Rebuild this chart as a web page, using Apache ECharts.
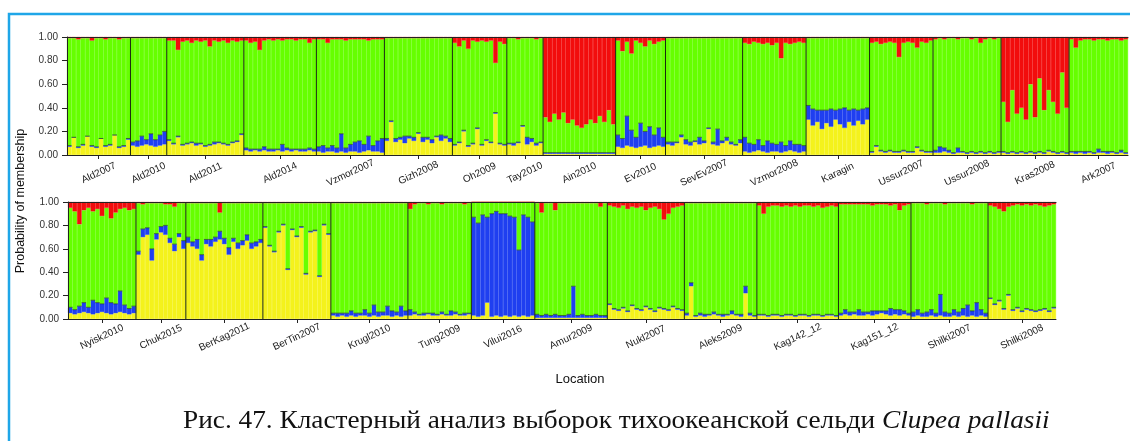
<!DOCTYPE html>
<html>
<head>
<meta charset="utf-8">
<script src="https://cdn.jsdelivr.net/npm/echarts@6/dist/echarts.min.js"></script>
<style>
  html, body { margin: 0; padding: 0; background: #fff; }
  #chart { width: 1130px; height: 441px; }
</style>
</head>
<body>
<div id="chart"></div>
<script>
// membership, percent per individual; green is what is left to 100
// bottom of the stack: yellow, then blue, green, red on top
const topPops = ['Ald2007', 'Ald2010', 'Ald2011', 'Ald2014', 'Vzmor2007', 'Gizh2008', 'Oh2009', 'Tay2010',
  'Ain2010', 'Ev2010', 'SevEv2007', 'Vzmor2008', 'Karagin', 'Ussur2007', 'Ussur2008', 'Kras2008', 'Ark2007'];
const topYellow = [
  [7, 15, 6, 8, 16, 7, 6, 14, 7, 8, 17, 6, 7, 13],
  [8, 7, 8, 9, 8, 7, 8, 9],
  [12, 9, 15, 8, 9, 10, 8, 9, 7, 8, 9, 10, 9, 8, 10, 11, 17],
  [4, 3, 4, 3, 4, 3, 3, 4, 3, 4, 3, 4, 3, 3, 4, 3],
  [3, 2, 3, 3, 2, 3, 2, 3, 3, 2, 3, 4, 3, 3, 2],
  [12, 28, 11, 13, 10, 14, 12, 18, 11, 13, 10, 15, 12, 14, 11],
  [8, 10, 20, 7, 9, 22, 8, 12, 10, 35, 9, 8],
  [9, 8, 10, 24, 9, 11, 8, 10],
  [1, 1, 1, 1, 1, 1, 1, 1, 1, 1, 1, 1, 1, 1, 1, 1],
  [7, 6, 8, 7, 6, 7, 8, 6, 7, 8, 7],
  [9, 8, 10, 15, 9, 8, 11, 9, 10, 22, 9, 8, 10, 12, 9, 8, 10],
  [3, 2, 3, 4, 3, 2, 3, 3, 2, 3, 4, 3, 2, 3],
  [30, 25, 28, 22, 27, 24, 30, 26, 23, 28, 25, 29, 26, 30],
  [2, 7, 3, 2, 3, 2, 2, 3, 2, 2, 6, 3, 2, 2],
  [2, 2, 3, 2, 1, 2, 2, 1, 2, 1, 2, 1, 2, 1, 2],
  [2, 1, 2, 1, 2, 1, 2, 1, 2, 1, 3, 2, 1, 2, 1],
  [2, 1, 2, 1, 2, 1, 2, 2, 1, 2, 1, 2, 1]
];
const topBlue = [
  [1, 0, 1, 1, 0, 1, 1, 0, 1, 1, 0, 1, 1, 1],
  [3, 5, 8, 4, 10, 6, 9, 11],
  [1, 1, 1, 1, 1, 1, 2, 1, 1, 1, 2, 1, 1, 1, 1, 1, 1],
  [2, 2, 1, 2, 3, 2, 2, 1, 6, 2, 2, 1, 2, 2, 2, 2],
  [4, 6, 3, 5, 4, 15, 4, 6, 8, 10, 6, 12, 5, 9, 12],
  [2, 1, 3, 2, 6, 2, 3, 1, 4, 2, 3, 1, 5, 2, 3],
  [1, 1, 1, 1, 1, 1, 1, 1, 1, 1, 1, 1],
  [1, 2, 1, 1, 6, 3, 2, 1],
  [1, 1, 1, 1, 1, 1, 1, 1, 1, 1, 1, 1, 1, 1, 1, 1],
  [10, 8, 25, 14, 9, 20, 12, 18, 10, 15, 8],
  [2, 3, 1, 2, 4, 3, 1, 6, 2, 1, 2, 14, 2, 3, 2, 1, 3],
  [12, 8, 6, 9, 5, 10, 7, 6, 9, 5, 8, 6, 7, 5],
  [12, 14, 10, 16, 11, 15, 8, 13, 17, 10, 14, 9, 13, 10],
  [1, 1, 1, 1, 1, 1, 1, 1, 1, 1, 1, 1, 1, 1],
  [2, 5, 3, 2, 1, 4, 1, 1, 1, 1, 1, 1, 1, 1, 1],
  [1, 1, 1, 1, 1, 1, 1, 1, 1, 1, 1, 1, 1, 1, 1],
  [1, 2, 1, 2, 1, 1, 3, 1, 2, 1, 1, 2, 1]
];
const topRed = [
  [1, 1, 2, 1, 1, 3, 1, 1, 2, 1, 1, 2, 1, 1],
  [1, 1, 1, 1, 1, 1, 1, 1],
  [3, 3, 11, 4, 3, 5, 3, 4, 3, 8, 3, 4, 3, 5, 3, 4, 3],
  [3, 5, 4, 11, 3, 2, 3, 2, 3, 2, 2, 3, 2, 2, 5, 2],
  [2, 2, 5, 2, 2, 2, 3, 2, 2, 2, 2, 3, 2, 2, 2],
  [1, 1, 1, 1, 1, 1, 1, 1, 1, 1, 1, 1, 1, 1, 1],
  [5, 8, 3, 10, 3, 4, 3, 4, 3, 22, 4, 6],
  [1, 1, 2, 1, 1, 1, 2, 1],
  [68, 72, 65, 70, 64, 73, 70, 75, 77, 74, 70, 73, 67, 72, 62, 74],
  [3, 12, 4, 14, 3, 5, 8, 3, 6, 4, 3],
  [1, 1, 1, 1, 1, 1, 1, 1, 1, 1, 1, 1, 1, 1, 1, 1, 1],
  [5, 6, 4, 5, 6, 5, 7, 5, 18, 5, 6, 5, 4, 5],
  [1, 1, 1, 1, 1, 1, 1, 1, 1, 1, 1, 1, 1, 1],
  [5, 4, 6, 5, 4, 5, 17, 5, 4, 5, 9, 4, 5, 3],
  [2, 1, 2, 1, 1, 2, 1, 1, 2, 1, 5, 2, 1, 2, 1],
  [55, 72, 45, 65, 60, 70, 40, 68, 35, 62, 45, 55, 65, 30, 60],
  [2, 9, 3, 2, 2, 3, 2, 2, 3, 2, 2, 3, 2]
];

const bottomPops = ['Nyisk2010', 'Chuk2015', 'BerKag2011', 'BerTin2007', 'Krugl2010', 'Tung2009', 'Vilui2016',
  'Amur2009', 'Nukl2007', 'Aleks2009', 'Kag142_12', 'Kag151_12', 'Shilki2007', 'Shilki2008'];
const bottomYellow = [
  [5, 4, 5, 6, 5, 4, 5, 6, 5, 4, 5, 6, 5, 4, 5],
  [55, 70, 72, 50, 68, 74, 72, 65, 58, 70, 60],
  [65, 62, 60, 50, 64, 62, 66, 68, 64, 55, 66, 60, 63, 67, 60, 62, 65],
  [78, 62, 57, 74, 80, 42, 76, 70, 78, 38, 74, 75, 36, 80, 72],
  [3, 2, 3, 2, 3, 2, 3, 3, 2, 3, 2, 3, 3, 2, 3, 2, 3],
  [3, 4, 3, 3, 4, 3, 3, 4, 3, 3, 4, 3, 3, 4],
  [3, 2, 3, 14, 2, 3, 2, 3, 2, 3, 2, 3, 2, 3],
  [1, 1, 1, 1, 1, 1, 1, 1, 1, 1, 1, 1, 1, 1, 1, 1],
  [12, 8, 7, 9, 6, 11, 8, 7, 10, 8, 6, 9, 8, 7, 10, 8, 7],
  [3, 28, 2, 3, 2, 3, 4, 3, 2, 3, 4, 3, 2, 22, 3, 2],
  [3, 3, 2, 3, 3, 2, 3, 3, 2, 3, 3, 2, 3, 3, 2, 3, 3, 2],
  [3, 4, 3, 4, 3, 3, 4, 3, 4, 5, 4, 3, 4, 3, 4, 3],
  [2, 3, 2, 2, 3, 2, 3, 2, 2, 3, 2, 3, 2, 3, 2, 3, 2],
  [17, 12, 15, 8, 20, 7, 9, 6, 8, 7, 6, 7, 8, 6, 9]
];
const bottomBlue = [
  [5, 4, 6, 8, 5, 12, 9, 7, 13, 10, 8, 18, 7, 5, 6],
  [3, 7, 6, 10, 5, 5, 8, 4, 6, 3, 7],
  [5, 4, 8, 5, 4, 6, 4, 7, 5, 6, 3, 5, 4, 5, 5, 4, 3],
  [1, 1, 1, 1, 1, 1, 1, 1, 1, 1, 1, 1, 1, 1, 1],
  [2, 3, 2, 3, 4, 3, 2, 5, 3, 9, 4, 3, 8, 5, 3, 9, 4],
  [5, 2, 1, 2, 1, 2, 1, 2, 1, 4, 2, 1, 2, 1],
  [84, 80, 86, 73, 88, 89, 88, 87, 86, 84, 57, 86, 85, 80],
  [3, 2, 3, 2, 3, 2, 2, 3, 27, 2, 3, 2, 2, 3, 2, 2],
  [1, 1, 1, 1, 1, 1, 1, 1, 1, 1, 1, 1, 1, 1, 1, 1, 1],
  [2, 3, 1, 2, 2, 1, 2, 1, 2, 1, 3, 1, 2, 6, 2, 1],
  [1, 1, 1, 1, 1, 1, 1, 1, 1, 1, 1, 1, 1, 1, 1, 1, 1, 1],
  [2, 4, 3, 2, 5, 3, 2, 4, 3, 2, 3, 6, 4, 5, 3, 2],
  [4, 5, 3, 4, 5, 3, 18, 4, 3, 5, 4, 6, 10, 4, 12, 5, 3],
  [1, 1, 1, 1, 1, 1, 1, 1, 1, 1, 1, 1, 1, 1, 1]
];
const bottomRed = [
  [5, 8, 19, 7, 5, 8, 6, 12, 5, 14, 9, 6, 5, 7, 6],
  [1, 2, 1, 1, 1, 1, 2, 2, 4, 1, 1],
  [1, 1, 1, 1, 1, 1, 1, 9, 1, 1, 1, 1, 1, 1, 1, 1, 1],
  [1, 1, 1, 1, 1, 1, 1, 1, 1, 1, 1, 1, 1, 1, 1],
  [1, 1, 1, 1, 1, 1, 1, 1, 1, 1, 1, 1, 1, 1, 1, 1, 1],
  [6, 2, 1, 1, 2, 1, 1, 2, 1, 1, 1, 1, 2, 1],
  [0, 0, 0, 0, 0, 0, 0, 0, 0, 0, 0, 0, 0, 0],
  [1, 9, 1, 1, 7, 1, 1, 1, 1, 1, 1, 1, 1, 1, 4, 1],
  [3, 4, 5, 3, 6, 4, 5, 4, 7, 5, 4, 6, 15, 10, 5, 4, 3],
  [1, 1, 1, 1, 1, 1, 1, 1, 1, 1, 1, 1, 1, 1, 1, 1],
  [3, 10, 4, 3, 3, 4, 3, 4, 3, 4, 3, 3, 4, 3, 5, 4, 3, 4],
  [2, 2, 2, 2, 2, 2, 2, 3, 2, 2, 2, 3, 2, 7, 3, 2],
  [1, 1, 1, 2, 1, 1, 1, 2, 1, 1, 1, 1, 1, 2, 1, 1, 1],
  [3, 4, 6, 8, 4, 3, 2, 3, 2, 3, 2, 3, 4, 3, 2]
];

const colors = { yellow: '#f4f21c', blue: '#1f3ff0', green: '#66ff00', red: '#f20d0d' };
const FONT = 'Liberation Sans, Arial, sans-serif';
const SERIF = 'Liberation Serif, Times New Roman, serif';

function buildRow(pops, Y, B, R) {
  const row = { yellow: [], blue: [], green: [], red: [], edge: [], cats: [], centers: [], bounds: [], names: new Map() };
  let s = 0;
  pops.forEach((p, k) => {
    const n = Y[k].length;
    for (let j = 0; j < n; j++) {
      const y = Y[k][j], b = B[k][j], r = R[k][j];
      row.cats.push(String(s + j));
      row.yellow.push(y);
      row.blue.push(b);
      row.red.push(r);
      row.green.push(100 - y - b - r);
      row.edge.push([s + j, y + b]);
    }
    row.centers.push(s + n / 2);
    row.names.set(s + n / 2, p);
    s += n;
    if (k < pops.length - 1) row.bounds.push([s, 0]);
  });
  row.total = s;
  return row;
}

const rows = [buildRow(topPops, topYellow, topBlue, topRed), buildRow(bottomPops, bottomYellow, bottomBlue, bottomRed)];
const grids = [
  { left: 67, top: 37, width: 1061, height: 118 },
  { left: 68, top: 202, width: 988, height: 117 }
];

const xAxis = [], yAxis = [], series = [];
rows.forEach((row, g) => {
  const cat = xAxis.length;
  xAxis.push({ type: 'category', gridIndex: g, data: row.cats, show: false, boundaryGap: true });
  const val = xAxis.length;
  xAxis.push({
    type: 'value', gridIndex: g, min: 0, max: row.total, position: 'bottom', z: 4,
    axisLine: { show: true, lineStyle: { color: '#222', width: 1 } },
    axisTick: { show: true, customValues: row.centers, length: 4, lineStyle: { color: '#222' } },
    axisLabel: {
      show: true, customValues: row.centers, rotate: 25, align: 'center', verticalAlign: 'middle', margin: 18,
      fontFamily: FONT, fontSize: 10, color: '#1a1a1a',
      formatter: v => row.names.get(v) || ''
    },
    splitLine: { show: false }
  });
  xAxis.push({
    type: 'value', gridIndex: g, min: 0, max: row.total, position: 'top', z: 4,
    axisLine: { show: true, lineStyle: { color: '#222', width: 1 } },
    axisTick: { show: false }, axisLabel: { show: false }, splitLine: { show: false }
  });
  yAxis.push({
    type: 'value', gridIndex: g, min: 0, max: 100, interval: 20, z: 4,
    axisLine: { show: true, lineStyle: { color: '#222' } },
    axisTick: { show: true, length: 5, lineStyle: { color: '#222' } },
    axisLabel: { fontFamily: FONT, fontSize: 10, color: '#333', margin: 9, formatter: v => (v / 100).toFixed(2) },
    splitLine: { show: false }
  });
  ['yellow', 'blue', 'green', 'red'].forEach(key => {
    series.push({
      type: 'bar', xAxisIndex: cat, yAxisIndex: g, stack: 'row' + g, data: row[key],
      barCategoryGap: '0%', itemStyle: { color: colors[key], borderColor: colors[key], borderWidth: 0.4 },
      silent: true, animation: false
    });
  });
  // dark outline at the top of the yellow+blue part
  series.push({
    type: 'custom', xAxisIndex: cat, yAxisIndex: g, data: row.edge, silent: true, animation: false, z: 3,
    renderItem: (params, api) => {
      const c = api.coord([api.value(0), api.value(1)]);
      const w = api.size([1, 0])[0];
      return { type: 'line', shape: { x1: c[0] - w / 2, y1: c[1], x2: c[0] + w / 2, y2: c[1] },
        style: { stroke: 'rgba(20,35,20,0.6)', lineWidth: 1 } };
    }
  });
  // population separators
  series.push({
    type: 'custom', xAxisIndex: val, yAxisIndex: g, data: row.bounds, silent: true, animation: false, z: 3,
    renderItem: (params, api) => {
      const p0 = api.coord([api.value(0), 0]);
      const p1 = api.coord([api.value(0), 100]);
      return { type: 'line', shape: { x1: p0[0], y1: p0[1], x2: p1[0], y2: p1[1] },
        style: { stroke: '#1b2a10', lineWidth: 1 } };
    }
  });
});

const chart = echarts.init(document.getElementById('chart'));
chart.setOption({
  animation: false,
  backgroundColor: '#ffffff',
  grid: grids,
  xAxis,
  yAxis,
  series,
  graphic: [
    { type: 'polyline', shape: { points: [[9, 441], [9, 14], [1130, 14]] }, style: { stroke: '#1fa6e8', lineWidth: 2.5, fill: null } },
    { type: 'text', x: 21, y: 201, rotation: Math.PI / 2,
      style: { text: 'Probability of membership', fontFamily: FONT, fontSize: 12.5, fill: '#111', align: 'center', verticalAlign: 'middle' } },
    { type: 'text', x: 580, y: 379,
      style: { text: 'Location', fontFamily: FONT, fontSize: 13, fill: '#111', align: 'center', verticalAlign: 'middle' } },
    { type: 'text', x: 183, y: 421, scaleX: 1.05,
      style: {
        text: '{n|Рис. 47. Кластерный анализ выборок тихоокеанской сельди }{i|Clupea pallasii}',
        verticalAlign: 'middle',
        rich: {
          n: { fontFamily: SERIF, fontSize: 26, fill: '#111' },
          i: { fontFamily: SERIF, fontSize: 26, fontStyle: 'italic', fill: '#111' }
        }
      } }
  ]
});
</script>
</body>
</html>
